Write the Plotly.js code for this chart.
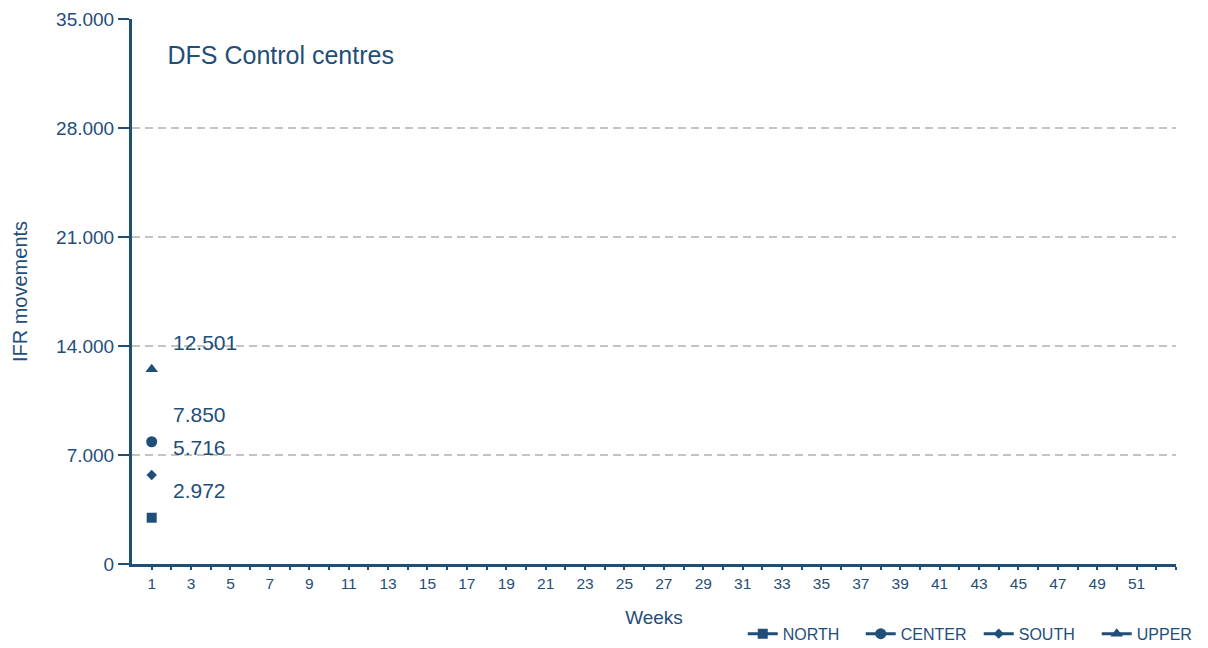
<!DOCTYPE html>
<html>
<head>
<meta charset="utf-8">
<script src="https://cdn.plot.ly/plotly-3.0.1.min.js"></script>
<style>html,body{margin:0;padding:0;background:#fff;}#chart{width:1208px;height:648px;}</style>
</head>
<body>
<div id="chart"></div>
<script>
// ---- data ----
const seriesNames = ["NORTH", "CENTER", "SOUTH", "UPPER"];
const seriesSymbols = ["square", "circle", "diamond", "triangle-up"];
const seriesSizes = [10, 11, 8, 11];
const weeks = [1];
const northValues = [2972];
const centerValues = [7850];
const southValues = [5716];
const upperValues = [12501];
const allWeeks = Array.from({length: 53}, (_, i) => i + 1);
const weekTickLabels = allWeeks.map(w => (w % 2 === 1 && w <= 51) ? String(w) : "");
const yTickValues = [0, 7000, 14000, 21000, 28000, 35000];

const COLOR = "#1f4e79";
const FONT = "Liberation Sans Narrow, Arial Narrow, Liberation Sans, Arial, sans-serif";

function fmt(v) {
  return String(v).replace(/\B(?=(\d{3})+(?!\d))/g, ".");
}

const values = [northValues, centerValues, southValues, upperValues];
const traces = seriesNames.map((name, i) => ({
  type: "scatter",
  mode: "lines+markers",
  name: name,
  x: weeks,
  y: values[i],
  line: {color: COLOR, width: 3},
  marker: {symbol: seriesSymbols[i], size: seriesSizes[i], color: COLOR},
  hoverinfo: "x+y"
}));

const annotations = [];
values.forEach(arr => {
  arr.forEach((v, j) => {
    annotations.push({
      x: weeks[j], y: v, xref: "x", yref: "y",
      text: fmt(v), showarrow: false,
      xanchor: "left", yanchor: "middle",
      xshift: 19, yshift: 27,
      font: {family: FONT, size: 21, color: COLOR}
    });
  });
});

const layout = {
  width: 1208, height: 648,
  margin: {l: 132, r: 32, t: 19, b: 84, autoexpand: false},
  paper_bgcolor: "#ffffff",
  plot_bgcolor: "#ffffff",
  separators: ",.",
  font: {family: FONT, color: COLOR},
  showlegend: true,
  title: {
    text: "DFS Control centres",
    font: {family: FONT, size: 25, color: COLOR},
    xref: "paper", yref: "paper",
    x: 0.034, xanchor: "left",
    y: 0.934, yanchor: "middle"
  },
  xaxis: {
    range: [0, 53],
    tickmode: "array",
    tickvals: allWeeks,
    ticktext: weekTickLabels,
    ticks: "outside", ticklen: 3, tickwidth: 2, tickcolor: COLOR,
    showline: true, linecolor: COLOR, linewidth: 3,
    showgrid: false, zeroline: false,
    tickfont: {family: FONT, size: 15.5, color: COLOR},
    title: {text: "Weeks", font: {family: FONT, size: 19, color: COLOR}, standoff: 21},
    fixedrange: true
  },
  yaxis: {
    range: [0, 35000],
    tickmode: "array",
    tickvals: yTickValues,
    tickformat: ",d",
    ticks: "outside", ticklen: 11, tickwidth: 2, tickcolor: COLOR,
    showline: true, linecolor: COLOR, linewidth: 3,
    showgrid: true, gridcolor: "#c4c4c4", gridwidth: 2, griddash: "8px,5px",
    zeroline: false,
    tickfont: {family: FONT, size: 19, color: COLOR},
    title: {text: "IFR movements", font: {family: FONT, size: 20, color: COLOR}, standoff: 24},
    fixedrange: true
  },
  legend: {
    orientation: "h",
    x: 0.585, xanchor: "left",
    y: -0.128, yanchor: "middle",
    entrywidth: 73, entrywidthmode: "pixels",
    font: {family: FONT, size: 16, color: COLOR},
    bgcolor: "rgba(0,0,0,0)"
  },
  annotations: annotations
};

Plotly.newPlot("chart", traces, layout, {displayModeBar: false, staticPlot: true});
</script>
</body>
</html>
